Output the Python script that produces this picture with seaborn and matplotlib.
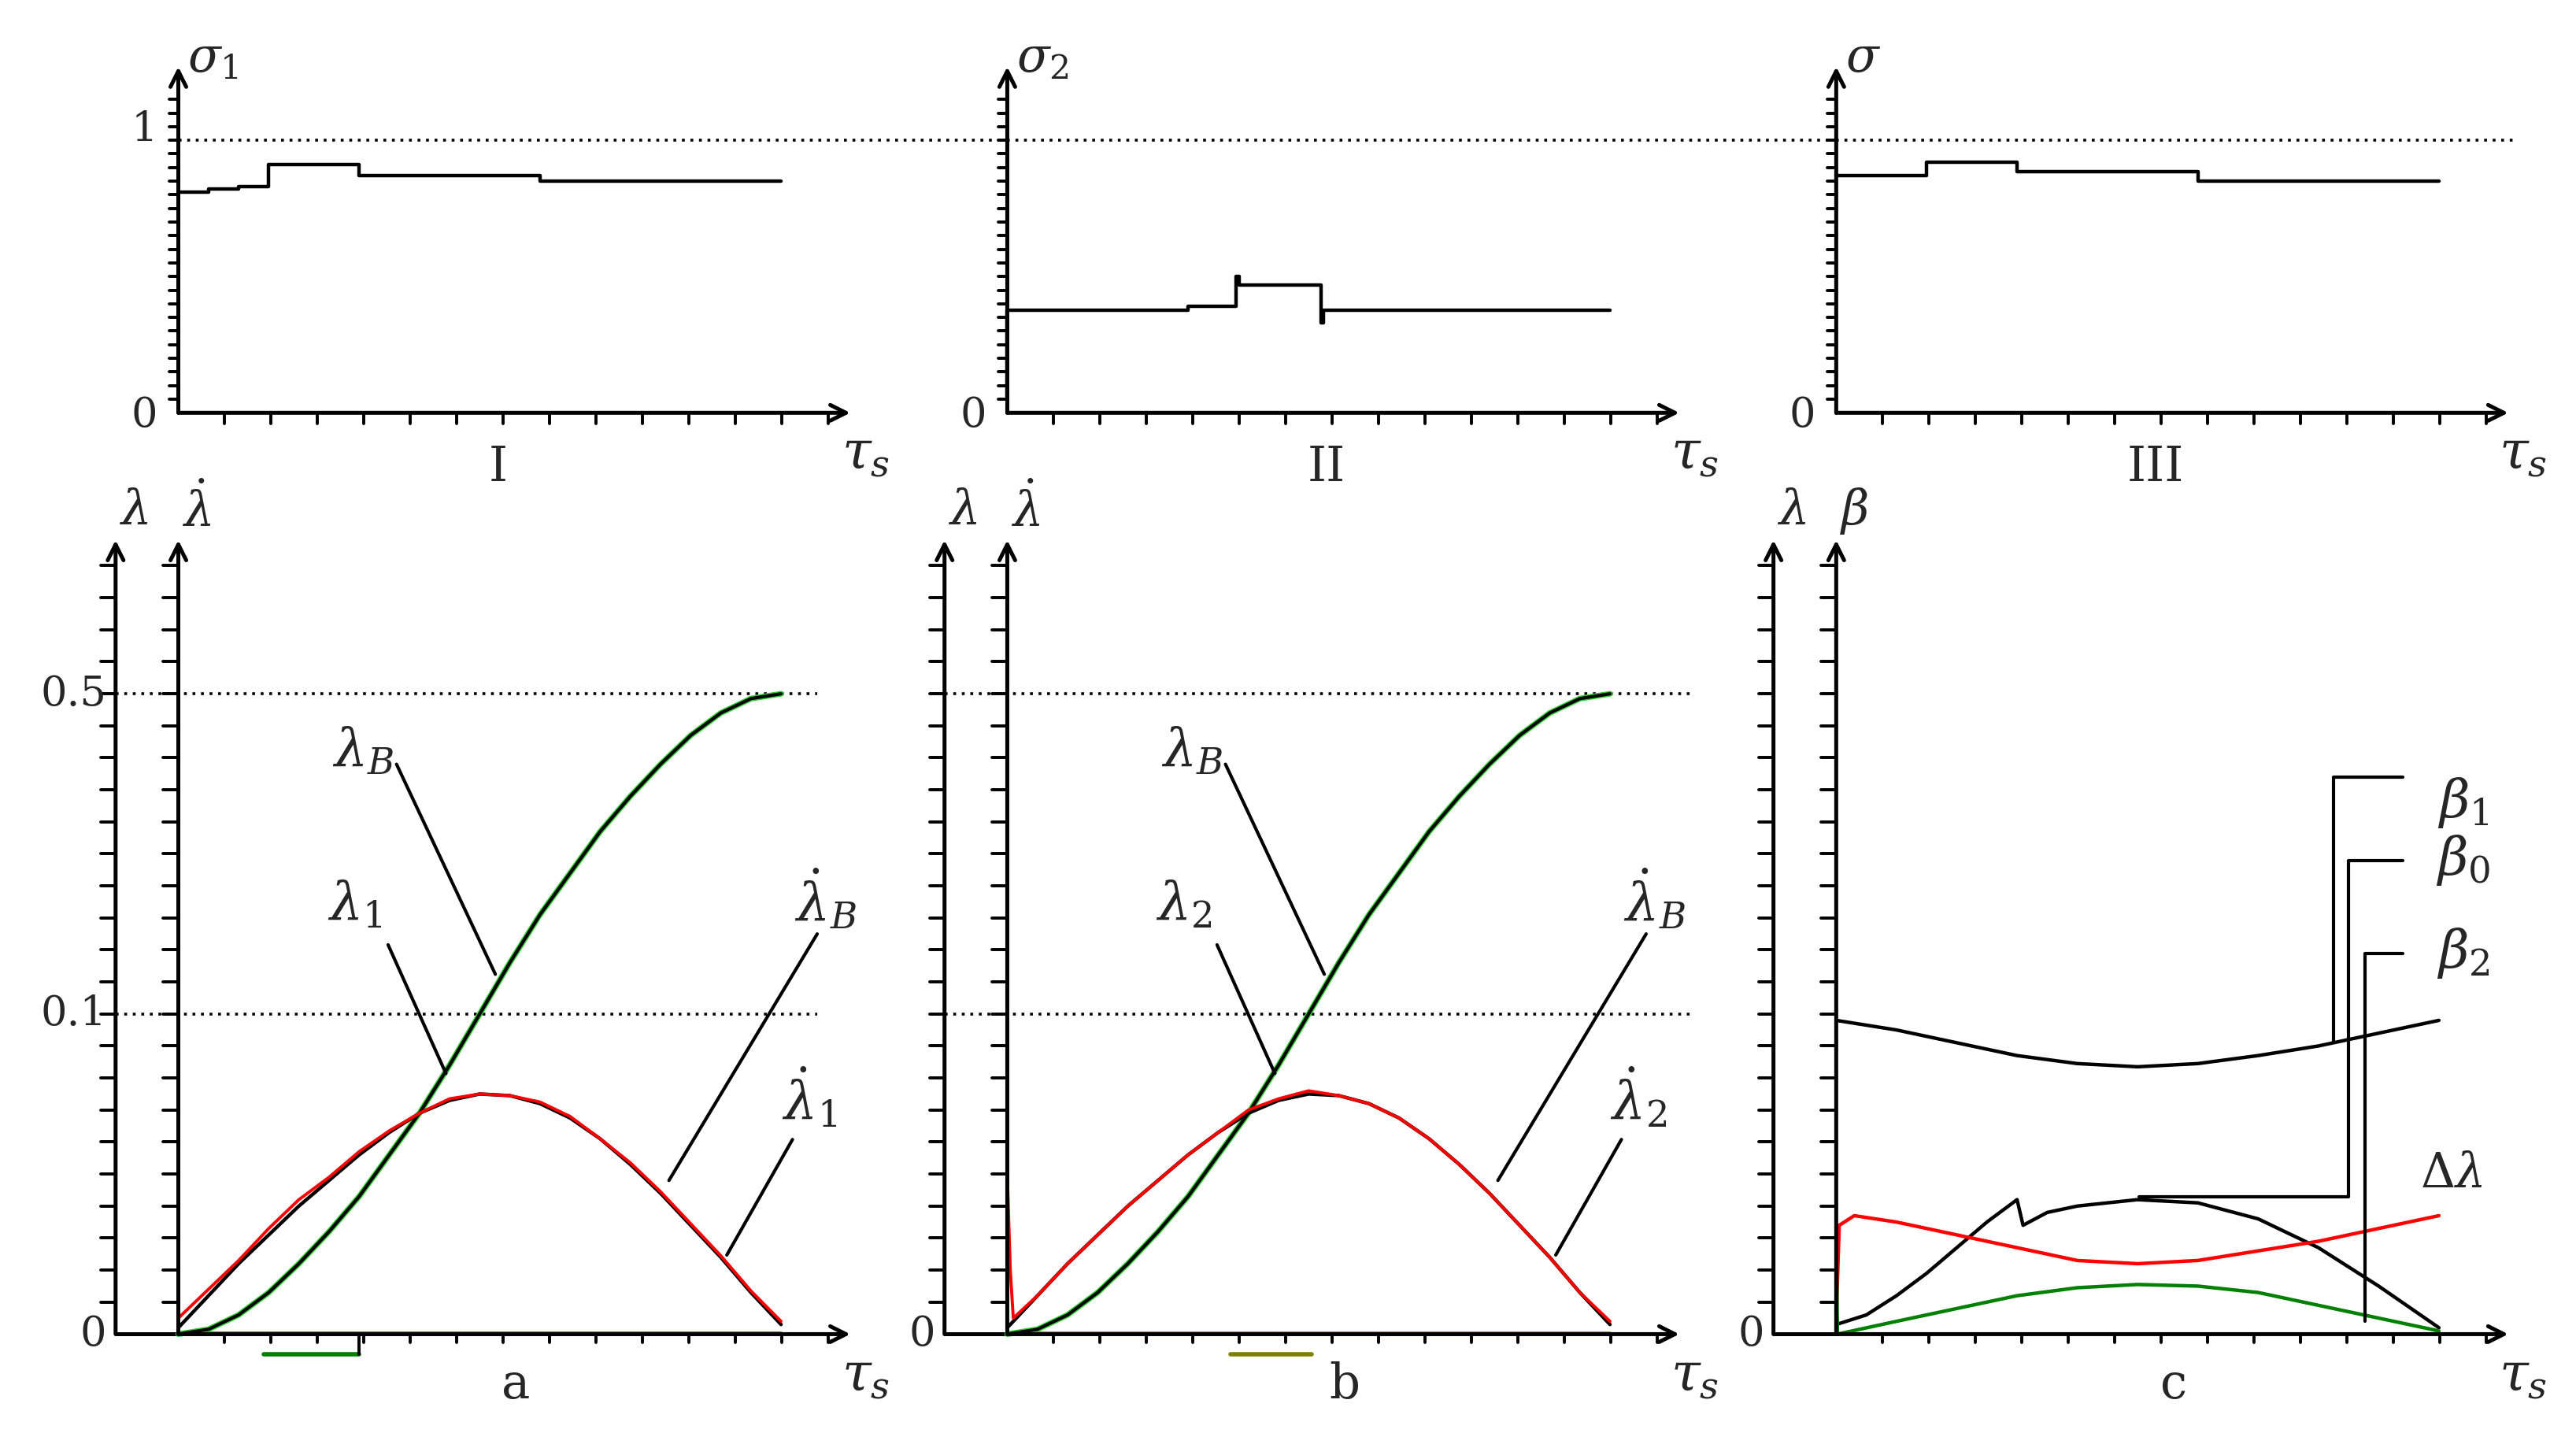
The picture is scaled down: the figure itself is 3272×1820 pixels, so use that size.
import numpy as np
import matplotlib
matplotlib.use("Agg")
import matplotlib.pyplot as plt
import seaborn as sns

sns.set_theme(style="white")
plt.rcParams['font.family'] = ['DejaVu Serif']
plt.rcParams['mathtext.fontset'] = 'dejavuserif'

# ---- data (time in fractions of tau_s, values in plot units) ----
t21 = [0, .05, .1, .15, .2, .25, .3, .35, .4, .45, .5, .55, .6, .65, .7, .75, .8, .85, .9, .95, 1]
lam_B = [0, .015, .06, .13, .22, .32, .43, .56, .69, .84, 1.0, 1.16, 1.31, 1.44, 1.57, 1.68, 1.78, 1.87, 1.94, 1.985, 2.0]
dlam_B = [.02, .12, .22, .31, .40, .48, .56, .63, .69, .73, .75, .745, .72, .675, .61, .53, .44, .34, .24, .13, .03]
dlam_1 = [.05, .14, .23, .33, .42, .49, .57, .635, .69, .735, .75, .745, .725, .68, .61, .535, .445, .345, .245, .135, .04]
t_red2 = [0, .005, .01] + t21[1:]
dlam_2 = [.5, .2, .05] + [.12, .22, .31, .40, .48, .56, .63, .70, .735, .76, .745, .72, .675, .61, .53, .44, .34, .24, .13, .04]

t_s1 = [0, .05, .1, .15, .15, .3, .3, .6, .6, 1.0]
sig_1 = [.81, .82, .83, .84, .91, .91, .87, .87, .85, .85]
t_s2 = [0, 0, .005, .3, .38, .38, .385, .52, .52, .525, 1.0]
sig_2 = [.06, .375, .375, .39, .39, .5, .47, .47, .33, .375, .375]
t_s3 = [0, .15, .15, .3, .3, .6, .6, 1.0]
sig_3 = [.87, .87, .92, .92, .885, .885, .85, .85]

t11 = [0, .1, .2, .3, .4, .5, .6, .7, .8, .9, 1]
beta_1 = [.98, .95, .91, .87, .845, .835, .845, .87, .9, .94, .98]
t_b0 = [0, .05, .1, .15, .2, .25, .3, .31, .35, .4, .5, .6, .7, .8, .9, 1]
beta_0 = [.03, .06, .12, .19, .27, .35, .42, .34, .38, .40, .42, .41, .36, .27, .15, .02]
t_dl = [0, .005, .03, .1, .2, .3, .4, .5, .6, .7, .8, .9, 1]
d_lam = [.05, .34, .37, .35, .31, .27, .23, .22, .23, .26, .29, .33, .37]
t_b2 = [0, .002] + t11[1:]
beta_2 = [.32, 0, .04, .08, .12, .145, .155, .15, .13, .09, .05, .01]

W, H = 1560, 868
fig = plt.figure(figsize=(16.36, 9.1), dpi=200)


def add_ax(x0, x1, y0, y1, xl, yl):
    ax = fig.add_axes([x0 / W, (H - y1) / H, (x1 - x0) / W, (y1 - y0) / H])
    ax.set_xlim(*xl)
    ax.set_ylim(*yl)
    ax.axis('off')
    return ax


def arrow(ax, x0, y0, x1, y1):
    ax.annotate("", xy=(x1, y1), xytext=(x0, y0), annotation_clip=False,
                arrowprops=dict(arrowstyle="->", lw=1.8, color="black",
                                shrinkA=0, shrinkB=0, mutation_scale=18))


def yticks(ax, x, top, step, size):
    for v in np.arange(step, top, step):
        ax.plot([x - size, x], [v, v], color="black", lw=1.4, clip_on=False)


def xticks(ax, right, step, size):
    for v in np.arange(step, right, step):
        ax.plot([v, v], [0, -size], color="black", lw=1.4, clip_on=False)


def line(ax, x, y, color="black", lw=1.6, **kw):
    sns.lineplot(x=x, y=y, ax=ax, color=color, lw=lw, estimator=None, sort=False, legend=False, **kw)


def dotted(ax, x0, x1, y):
    ax.plot([x0, x1], [y, y], color="black", lw=1.3, ls=(0, (1, 2)), clip_on=False)


# ---- top panels ----
tops = [(108, r"$\sigma_1$", "I", t_s1, sig_1, True, 1.375),
        (610, r"$\sigma_2$", "II", t_s2, sig_2, False, 1.375),
        (1112, r"$\sigma$", "III", t_s3, sig_3, False, 1.126)]
for x0, ylab, roman, tx, sy, one, dend in tops:
    ax = add_ax(x0 - 35, x0 + 450, 30, 290, ((-35) / 365, 450 / 365), (-0.242, 1.333))
    arrow(ax, 0, 0, 0, 1.27)
    arrow(ax, 0, 0, 1.115, 0)
    yticks(ax, 0, 1.2, 0.05, 0.015)
    xticks(ax, 1.08, 0.077, 0.04)
    dotted(ax, 0, dend, 1.0)
    line(ax, tx, sy, drawstyle="steps-post")
    ax.text(0.015, 1.3, ylab, fontsize=22, ha="left", va="center")
    ax.text(-0.035, -0.01, "0", fontsize=19, ha="right", va="center")
    if one:
        ax.text(-0.035, 1.04, "1", fontsize=19, ha="right", va="center")
    ax.text(0.53, -0.2, roman, fontsize=22, ha="center", va="center")
    ax.text(1.14, -0.15, r"$\tau_s$", fontsize=24, ha="center", va="center")

# ---- bottom panels ----
bots = [(108, "a", r"$\dot\lambda$", "1", dlam_1, t21, "green", True),
        (610, "b", r"$\dot\lambda$", "2", dlam_2, t_red2, "olive", False),
        (1112, "c", r"$\beta$", None, None, None, None, False)]
for x0, letter, ylab2, idx, red_y, red_t, gcol, nums in bots:
    ax = add_ax(x0 - 95, x0 + 450, 300, 850, ((-95) / 365, 450 / 365), (-0.216, 2.62))
    xa = -38 / 365
    arrow(ax, xa, 0, xa, 2.48)
    arrow(ax, 0, 0, 0, 2.48)
    ax.plot([xa, 0], [0, 0], color="black", lw=1.8)
    arrow(ax, 0, 0, 1.115, 0)
    yticks(ax, xa, 2.45, 0.1, 0.025)
    yticks(ax, 0, 2.45, 0.1, 0.025)
    xticks(ax, 1.08, 0.077, 0.025)
    ax.text(xa + 0.03, 2.57, r"$\lambda$", fontsize=22, ha="center", va="center")
    ax.text(0.03, 2.57, ylab2, fontsize=22, ha="center", va="center")
    ax.text(xa - 0.015, 0, "0", fontsize=19, ha="right", va="center")
    ax.text(0.56, -0.16, letter, fontsize=22, ha="center", va="center")
    ax.text(1.14, -0.13, r"$\tau_s$", fontsize=24, ha="center", va="center")
    if idx is not None:
        if nums:
            ax.text(xa - 0.015, 2.0, "0.5", fontsize=19, ha="right", va="center")
            ax.text(xa - 0.015, 1.0, "0.1", fontsize=19, ha="right", va="center")
            dend = 1.06
        else:
            dend = 1.14
        dotted(ax, xa, dend, 2.0)
        dotted(ax, xa, dend, 1.0)
        line(ax, [0, 1], [0, 0], color=gcol, lw=2)
        if nums:
            line(ax, [0.142, 0.3], [-0.062, -0.062], color=gcol, lw=2)
            ax.plot([0.3, 0.3], [0, -0.062], color="black", lw=1.4)
        else:
            line(ax, [0.37, 0.505], [-0.062, -0.062], color=gcol, lw=2)
        line(ax, t21, lam_B, color="limegreen", lw=2.6)
        line(ax, t21, lam_B, color="black", lw=1.5)
        line(ax, t21, dlam_B, color="black", lw=1.6)
        line(ax, red_t, red_y, color="red", lw=1.4)
        # leader lines
        ax.plot([0.362, 0.526], [1.78, 1.124], color="black", lw=1.5)
        ax.plot([0.348, 0.444], [1.216, 0.814], color="black", lw=1.5)
        ax.plot([1.06, 0.814], [1.25, 0.48], color="black", lw=1.5)
        ax.plot([1.019, 0.91], [0.608, 0.247], color="black", lw=1.5)
        ax.text(0.307, 1.82, r"$\lambda_B$", fontsize=24, ha="center", va="center")
        ax.text(0.293, 1.34, r"$\lambda_%s$" % idx, fontsize=24, ha="center", va="center")
        ax.text(1.074, 1.356, r"$\dot\lambda_B$", fontsize=24, ha="center", va="center")
        ax.text(1.047, 0.737, r"$\dot\lambda_%s$" % idx, fontsize=24, ha="center", va="center")
    else:
        line(ax, t11, beta_1)
        line(ax, t_b0, beta_0)
        line(ax, t_dl, d_lam, color="red")
        line(ax, t_b2, beta_2, color="green")
        # leaders for beta labels
        ax.plot([0.825, 0.825, 0.94], [0.91, 1.74, 1.74], color="black", lw=1.5, clip_on=False)
        ax.plot([0.503, 0.85, 0.85, 0.94], [0.43, 0.43, 1.48, 1.48], color="black", lw=1.5, clip_on=False)
        ax.plot([0.877, 0.877, 0.94], [0.04, 1.19, 1.19], color="black", lw=1.5, clip_on=False)
        ax.text(1.04, 1.66, r"$\beta_1$", fontsize=24, ha="center", va="center")
        ax.text(1.04, 1.48, r"$\beta_0$", fontsize=24, ha="center", va="center")
        ax.text(1.04, 1.19, r"$\beta_2$", fontsize=24, ha="center", va="center")
        ax.text(1.02, 0.5, r"$\Delta\lambda$", fontsize=22, ha="center", va="center")

fig.savefig("out.png", dpi=200)
